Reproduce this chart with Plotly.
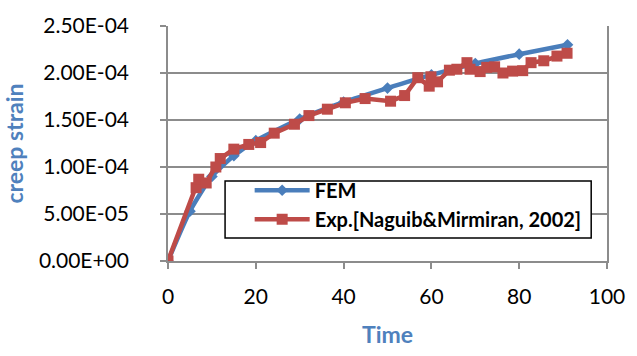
import plotly.graph_objects as go

# FEM series
fem_t = [0, 5, 10, 15, 20, 30, 40, 50, 60, 70, 80, 91]
fem_v = [0, 5.3e-5, 9.0e-5, 1.12e-4, 1.28e-4, 1.51e-4, 1.69e-4,
         1.84e-4, 1.98e-4, 2.10e-4, 2.20e-4, 2.30e-4]

# Experimental series
exp_t = [0, 6.4, 7.0, 8.7, 10.9, 11.9, 15.0, 18.4, 21.1, 24.2, 28.8, 32.1,
         36.3, 40.4, 44.9, 50.7, 53.9, 56.9, 59.5, 59.9, 61.4, 64.1, 65.8,
         68.1, 68.8, 71.1, 72.6, 74.4, 76.3, 78.5, 80.8, 82.7, 85.6, 88.6, 90.9]
exp_v = [0, 7.8e-5, 8.7e-5, 8.3e-5, 1.00e-4, 1.09e-4, 1.19e-4, 1.24e-4,
         1.26e-4, 1.36e-4, 1.455e-4, 1.547e-4, 1.615e-4, 1.683e-4, 1.728e-4,
         1.70e-4, 1.76e-4, 1.95e-4, 1.86e-4, 1.96e-4, 1.906e-4, 2.03e-4,
         2.04e-4, 2.11e-4, 2.04e-4, 2.015e-4, 2.06e-4, 2.066e-4, 2.00e-4,
         2.02e-4, 2.025e-4, 2.11e-4, 2.13e-4, 2.18e-4, 2.21e-4]

y_ticks = [0, 5e-5, 1e-4, 1.5e-4, 2e-4, 2.5e-4]
y_labels = ["0.00E+00", "5.00E-05", "1.00E-04", "1.50E-04", "2.00E-04", "2.50E-04"]
x_ticks = [0, 20, 40, 60, 80, 100]

BLUE = "#4A7EBB"
RED = "#BE4B48"
GRID = "#8C8C8C"
TITLE = "#4F81BD"
FONT = "Lato, Carlito, Calibri, sans-serif"

fig = go.Figure()
fig.add_trace(go.Scatter(
    x=fem_t, y=fem_v, name="FEM", mode="lines+markers",
    line=dict(color=BLUE, width=4.5, shape="spline", smoothing=0.6),
    marker=dict(symbol="diamond", size=9, color=BLUE),
))
fig.add_trace(go.Scatter(
    x=exp_t, y=exp_v, name="Exp.[Naguib&Mirmiran, 2002]", mode="lines+markers",
    line=dict(color=RED, width=4.5),
    marker=dict(symbol="square", size=11, color=RED),
))

# legend frame (paper coordinates)
fig.add_shape(type="rect", xref="paper", yref="paper",
              x0=0.130, x1=0.964, y0=0.098, y1=0.340,
              line=dict(color="black", width=1.5), fillcolor="white", layer="above")

fig.update_layout(
    width=637, height=356,
    margin=dict(l=168, r=23, t=17, b=95),
    paper_bgcolor="white", plot_bgcolor="white",
    font=dict(family=FONT, size=21, color="black"),
    showlegend=True,
    legend=dict(
        x=0.186, y=0.384, xanchor="left", yanchor="top",
        bgcolor="rgba(0,0,0,0)", borderwidth=0,
        font=dict(family=FONT, size=20, color="black", weight="bold"),
        tracegroupgap=0, itemwidth=55,
    ),
    xaxis=dict(
        range=[0, 100], tickvals=x_ticks,
        showgrid=False,
        showline=True, linecolor=GRID, linewidth=1.5, mirror=False,
        ticks="outside", ticklen=6, tickcolor=GRID, tickwidth=1.5,
        ticklabelstandoff=10,
        zeroline=False,
        title=dict(text="<b>Time</b>", font=dict(family=FONT, size=23, color=TITLE), standoff=20),
    ),
    yaxis=dict(
        range=[0, 2.5e-4], tickvals=y_ticks, ticktext=y_labels,
        showgrid=True, gridcolor=GRID, gridwidth=1.5,
        showline=True, linecolor=GRID, linewidth=1.5, mirror=True,
        ticks="outside", ticklen=6, tickcolor=GRID, tickwidth=1.5,
        ticklabelstandoff=27,
        zeroline=False,
        title=dict(text="<b>creep strain</b>", font=dict(family=FONT, size=23, color=TITLE), standoff=10),
    ),
)

fig.write_html("out.html")
